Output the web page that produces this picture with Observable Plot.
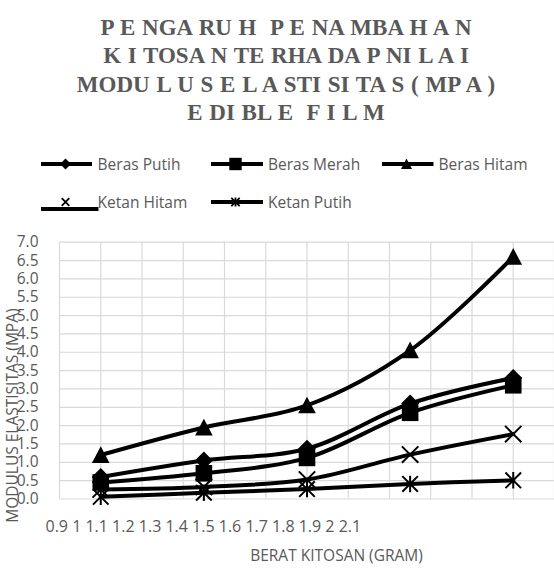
<!DOCTYPE html>
<html><head><meta charset="utf-8">
<script src="https://cdn.jsdelivr.net/npm/d3@7"></script>
<script src="https://cdn.jsdelivr.net/npm/@observablehq/plot@0.6"></script>
<style>
body{margin:0;background:#fff;}
#wrap{position:relative;width:554px;height:577px;overflow:hidden;font-family:"Open Sans",sans-serif;}
#chart{position:absolute;left:0;top:0;}
#title{position:absolute;left:0;top:13.5px;width:572px;text-align:center;font:bold 23px/28.5px "Liberation Serif","Times New Roman",serif;color:#595959;white-space:pre;word-spacing:1px;}
.leg{position:absolute;display:flex;align-items:center;height:24px;font-size:15.5px;color:#595959;white-space:nowrap;font-family:"Open Sans",sans-serif;}
.leg svg{display:block;overflow:visible;}
</style></head><body>
<div id="wrap"><div id="chart"></div><div id="title"></div><div id="legend"></div></div>
<script>
const titleLines = [
  "P E NGA RU H  P E NA MBA H A N",
  "K I TOSA N TE RHA DA P NI L A I",
  "MODU L U S E L A STI SI TA S ( MP A )",
  "E DI BL E  F I L M"
];
const xTitle = "BERAT KITOSAN (GRAM)";
const yTitle = "MODULUS ELASTISITAS (MPA)";
const seriesNames = ["Beras Putih", "Beras Merah", "Beras Hitam", "Ketan Hitam", "Ketan Putih"];
const xValues = [1.0, 1.25, 1.5, 1.75, 2.0];
const berasPutih = [0.6, 1.05, 1.37, 2.6, 3.3];
const berasMerah = [0.45, 0.7, 1.12, 2.35, 3.1];
const berasHitam = [1.2, 1.95, 2.55, 4.05, 6.6];
const ketanHitam = [0.26, 0.33, 0.53, 1.21, 1.77];
const ketanPutih = [0.06, 0.17, 0.27, 0.41, 0.51];
const xTickLabels = [0.9, 1, 1.1, 1.2, 1.3, 1.4, 1.5, 1.6, 1.7, 1.8, 1.9, 2, 2.1];
const yTicks = [0, 0.5, 1, 1.5, 2, 2.5, 3, 3.5, 4, 4.5, 5, 5.5, 6, 6.5, 7];

const seriesValues = [berasPutih, berasMerah, berasHitam, ketanHitam, ketanPutih];

// custom marker shapes (r = sqrt(size/PI))
const rad = s => Math.sqrt(s / Math.PI);
const symDiamond = {draw(c, s){const r = rad(s); c.moveTo(0,-r); c.lineTo(r,0); c.lineTo(0,r); c.lineTo(-r,0); c.closePath();}};
const symSquare = {draw(c, s){const r = rad(s); c.moveTo(-r,-r); c.lineTo(r,-r); c.lineTo(r,r); c.lineTo(-r,r); c.closePath();}};
const symTriangle = {draw(c, s){const r = rad(s); c.moveTo(0,-r); c.lineTo(r,r*0.9); c.lineTo(-r,r*0.9); c.closePath();}};
const symX = {draw(c, s){const r = rad(s); c.moveTo(-r,-r); c.lineTo(r,r); c.moveTo(-r,r); c.lineTo(r,-r);}};
const symStar = {draw(c, s){const r = rad(s); c.moveTo(-r,-r); c.lineTo(r,r); c.moveTo(-r,r); c.lineTo(r,-r); c.moveTo(0,-r*1.05); c.lineTo(0,r*1.05);}};

const markers = [
  {symbol: symDiamond, filled: true, r: 9, lr: 5.5},
  {symbol: symSquare, filled: true, r: 8.3, lr: 6.2},
  {symbol: symTriangle, filled: true, r: 8.8, lr: 5.5},
  {symbol: symX, filled: false, r: 8.2, lr: 3.8},
  {symbol: symStar, filled: false, r: 7.8, lr: 4.2}
];

const data = seriesNames.flatMap((name, si) =>
  xValues.map((x, i) => ({series: name, x, y: seriesValues[si][i]})));

// title
document.getElementById("title").textContent = titleLines.join("\n");

const chart = Plot.plot({
  width: 554, height: 577,
  marginTop: 241.7, marginBottom: 78.5, marginLeft: 59, marginRight: 0,
  style: {fontFamily: "'Open Sans', sans-serif", fontSize: "15.5px", color: "#595959", background: "transparent"},
  x: {domain: [0.9, 2.1], axis: null},
  y: {domain: [0, 7], ticks: yTicks, tickFormat: d => d.toFixed(1), tickSize: 0, tickPadding: 21, label: null},
  marks: [
    Plot.ruleX(xTickLabels, {stroke: "#d9d9d9", strokeWidth: 1.2}),
    Plot.ruleY(yTicks, {stroke: "#d9d9d9", strokeWidth: 1.2}),
    Plot.line(data, {x: "x", y: "y", z: "series", stroke: "black", strokeWidth: 4, curve: "catmull-rom"}),
    ...seriesNames.map((name, si) => Plot.dot(data.filter(d => d.series === name), {
      x: "x", y: "y", symbol: markers[si].symbol, r: markers[si].r,
      fill: markers[si].filled ? "black" : "none",
      stroke: markers[si].filled ? "none" : "black",
      strokeWidth: 2
    })),
    Plot.text([xTickLabels.join(" ")], {frameAnchor: "bottom-left", textAnchor: "start", dx: -14, dy: 33, fontSize: 16, fill: "#595959"}),
    Plot.text([xTitle], {frameAnchor: "bottom", textAnchor: "middle", dx: 29.5, dy: 62, fontSize: 15.5, fill: "#595959"}),
    Plot.text([yTitle], {frameAnchor: "left", textAnchor: "middle", rotate: -90, dx: -46.5, dy: 45, fontSize: 15.5, fill: "#595959"})
  ]
});
document.getElementById("chart").appendChild(chart);

// legend
const legendLayout = [
  {left: 40.6, cy: 164.3, lineLen: 51, lineDy: 0},
  {left: 211, cy: 164.3, lineLen: 52, lineDy: 0},
  {left: 381.6, cy: 164.3, lineLen: 51.5, lineDy: 0},
  {left: 40.6, cy: 201.7, lineLen: 57.5, lineDy: 7},
  {left: 211, cy: 201.7, lineLen: 52, lineDy: 0}
];
const legend = d3.select("#legend");
seriesNames.forEach((name, si) => {
  const L = legendLayout[si], m = markers[si];
  const item = legend.append("div").attr("class", "leg")
    .style("left", L.left + "px").style("top", (L.cy - 12) + "px");
  const svg = item.append("svg").attr("width", 57).attr("height", 24);
  svg.append("line").attr("x1", 0).attr("x2", L.lineLen)
    .attr("y1", 12 + L.lineDy).attr("y2", 12 + L.lineDy)
    .attr("stroke", "black").attr("stroke-width", 4);
  svg.append("path")
    .attr("transform", "translate(24.5,12)")
    .attr("d", d3.symbol(m.symbol, Math.PI * m.lr * m.lr)())
    .attr("fill", m.filled ? "black" : "none")
    .attr("stroke", m.filled ? "none" : "black")
    .attr("stroke-width", 1.8);
  item.append("span").text(name);
});
</script>
</body></html>
